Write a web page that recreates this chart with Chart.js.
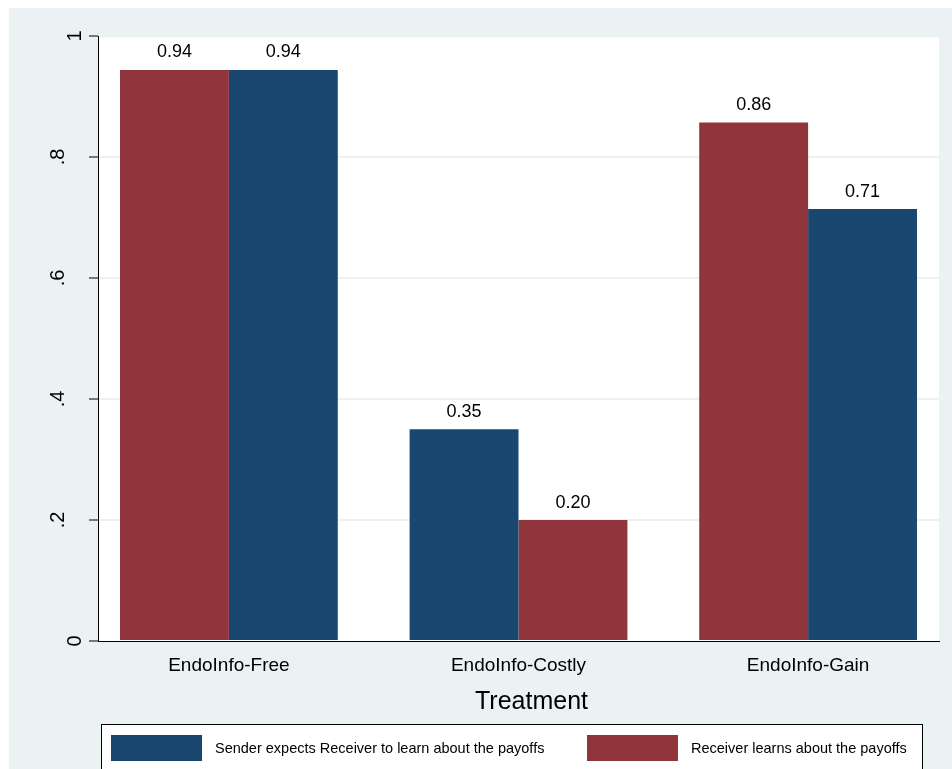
<!DOCTYPE html>
<html>
<head>
<meta charset="utf-8">
<script src="https://cdn.jsdelivr.net/npm/chart.js@4"></script>
<style>
  html, body { margin: 0; padding: 0; background: #ffffff; }
  #wrap { width: 952px; height: 769px; }
</style>
</head>
<body>
<div id="wrap"><canvas id="treatChart" width="952" height="769"></canvas></div>
<script>
// data
const treatments = ["EndoInfo-Free", "EndoInfo-Costly", "EndoInfo-Gain"];
const senderExpects = [0.944, 0.350, 0.714];
const receiverLearns = [0.944, 0.200, 0.857];
const seriesNames = ["Sender expects Receiver to learn about the payoffs", "Receiver learns about the payoffs"];
const yTicks = [0, 0.2, 0.4, 0.6, 0.8, 1];
const yTickLabels = ["0", ".2", ".4", ".6", ".8", "1"];
const xTitle = "Treatment";

const NAVY = "#1A476F";
const MAROON = "#90353B";
const PANEL = "#EAF2F3";
const FONT = "'Liberation Sans', Arial, sans-serif";

// Stata puts the taller bar first in each group (ties: receiver first)
const leftBars = [], rightBars = [], leftColors = [], rightColors = [];
treatments.forEach((t, i) => {
    const pair = [
        { v: receiverLearns[i], c: MAROON },
        { v: senderExpects[i], c: NAVY }
    ].sort((a, b) => b.v - a.v);
    leftBars.push({ x: i, y: pair[0].v });
    leftColors.push(pair[0].c);
    rightBars.push({ x: i, y: pair[1].v });
    rightColors.push(pair[1].c);
});

const stataLook = {
    id: "stataLook",
    beforeDraw(chart) {
        const { ctx, chartArea } = chart;
        ctx.save();
        ctx.fillStyle = PANEL;
        ctx.fillRect(9, 8, chart.width - 9, chart.height - 8);
        ctx.fillStyle = "#ffffff";
        ctx.fillRect(chartArea.left, chartArea.top + 1.5, chartArea.right - chartArea.left, chartArea.bottom - chartArea.top - 1.5);
        ctx.restore();
    },
    afterDatasetsDraw(chart) {
        const { ctx } = chart;
        ctx.save();
        ctx.fillStyle = "#000";
        ctx.font = "18px " + FONT;
        ctx.textAlign = "center";
        ctx.textBaseline = "alphabetic";
        chart.data.datasets.forEach((ds, di) => {
            chart.getDatasetMeta(di).data.forEach((bar, i) => {
                ctx.fillText(ds.data[i].y.toFixed(2), bar.x, bar.y - 12.5);
            });
        });
        ctx.restore();
    },
    afterDraw(chart) {
        const { ctx, chartArea } = chart;
        const yScale = chart.scales.y;
        ctx.save();
        // rotated y tick labels, Stata style
        ctx.fillStyle = "#000";
        ctx.font = "20px " + FONT;
        ctx.textAlign = "center";
        ctx.textBaseline = "alphabetic";
        yTicks.forEach((v, i) => {
            const lab = yTickLabels[i];
            const bx = lab.charAt(0) === "." ? 64 : 81;
            ctx.save();
            ctx.translate(bx, yScale.getPixelForValue(v));
            ctx.rotate(-Math.PI / 2);
            ctx.fillText(lab, 0, 0);
            ctx.restore();
        });
        // axis title
        ctx.font = "25px " + FONT;
        ctx.textBaseline = "middle";
        ctx.fillText(xTitle, (chartArea.left + chartArea.right) / 2 + 13, 702);
        // legend box
        ctx.fillStyle = "#ffffff";
        ctx.fillRect(101, 724, 822, 60);
        ctx.strokeStyle = "#000";
        ctx.lineWidth = 1;
        ctx.strokeRect(101.5, 724.5, 821, 60);
        const items = [
            { name: seriesNames[0], color: NAVY, x: 111 },
            { name: seriesNames[1], color: MAROON, x: 587 }
        ];
        ctx.font = "14.5px " + FONT;
        ctx.textAlign = "left";
        items.forEach(it => {
            ctx.fillStyle = it.color;
            ctx.fillRect(it.x, 735, 91, 26);
            ctx.fillStyle = "#000";
            ctx.fillText(it.name, it.x + 104, 749);
        });
        ctx.restore();
    }
};

const canvas = document.getElementById("treatChart");
const chart = new Chart(canvas.getContext("2d"), {
    type: "bar",
    data: {
        datasets: [
            { label: "left", data: leftBars, backgroundColor: leftColors, borderWidth: 0 },
            { label: "right", data: rightBars, backgroundColor: rightColors, borderWidth: 0 }
        ]
    },
    options: {
        responsive: false,
        animation: false,
        categoryPercentage: 0.752,
        barPercentage: 1.0,
        layout: { padding: { top: 36, right: 13, left: 0, bottom: 52 } },
        plugins: {
            legend: { display: false },
            tooltip: { enabled: false }
        },
        scales: {
            x: {
                type: "linear",
                offset: false,
                min: -0.452,
                max: treatments.length - 1 + 0.452,
                afterBuildTicks: scale => {
                    scale.ticks = treatments.map((t, i) => ({ value: i }));
                },
                afterFit: scale => { scale.height = 76; },
                grid: { display: false, drawTicks: false, offset: false },
                border: { display: true, color: "#000", width: 1 },
                ticks: {
                    autoSkip: false,
                    maxRotation: 0,
                    padding: 13,
                    color: "#000",
                    font: { family: FONT, size: 19 },
                    callback: v => treatments[v]
                }
            },
            y: {
                min: 0,
                max: 1,
                afterBuildTicks: scale => {
                    scale.ticks = yTicks.map(v => ({ value: v }));
                },
                afterFit: scale => { scale.width = 98; },
                grid: {
                    color: ctx => (ctx.tick && ctx.tick.value > 0 && ctx.tick.value < 1) ? PANEL : "rgba(0,0,0,0)",
                    lineWidth: 2,
                    tickColor: "#000",
                    tickWidth: 1,
                    tickLength: 9
                },
                border: { display: true, color: "#000", width: 1 },
                ticks: {
                    // labels are drawn rotated by the plugin
                    color: "rgba(0,0,0,0)",
                    font: { family: FONT, size: 18 }
                }
            }
        }
    },
    plugins: [stataLook]
});
</script>
</body>
</html>
